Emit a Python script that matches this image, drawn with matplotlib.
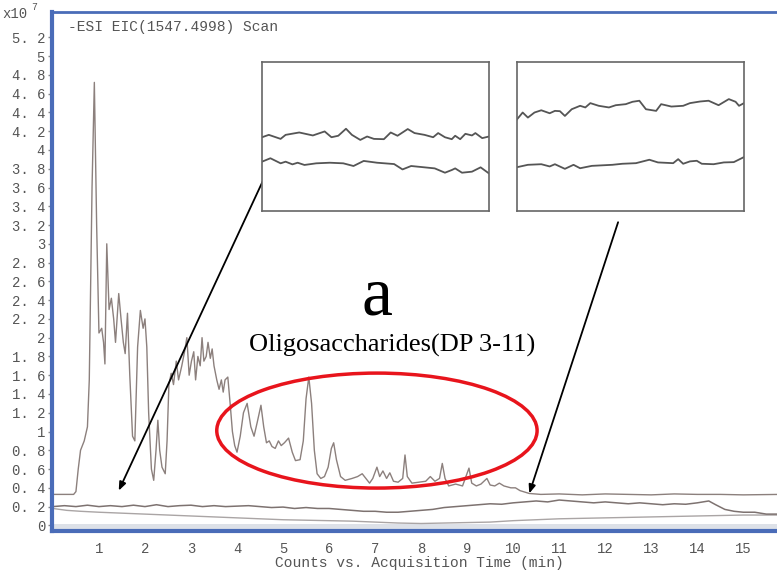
import matplotlib.pyplot as plt
from matplotlib.patches import Ellipse

# main EIC trace (x in min, y in 1e7 counts)
main_t = [0.0, 0.45, 0.5, 0.55, 0.6, 0.68, 0.75, 0.79, 0.85, 0.9, 0.95, 1.0, 1.06, 1.1, 1.13,
          1.17, 1.22, 1.27, 1.32, 1.36, 1.43, 1.48, 1.53, 1.57, 1.62, 1.67, 1.73, 1.78, 1.84,
          1.9, 1.96, 2.0, 2.04, 2.08, 2.14, 2.19, 2.24, 2.28, 2.32, 2.37, 2.44, 2.48, 2.52,
          2.57, 2.62, 2.68, 2.73, 2.8, 2.86, 2.91, 2.96, 3.01, 3.06, 3.1, 3.15, 3.2, 3.24,
          3.28, 3.33, 3.37, 3.42, 3.46, 3.5, 3.56, 3.61, 3.66, 3.7, 3.74, 3.8, 3.85, 3.9,
          3.95, 4.0, 4.07, 4.14, 4.22, 4.3, 4.37, 4.44, 4.52, 4.58, 4.64, 4.7, 4.76, 4.83,
          4.9, 4.96, 5.03, 5.12, 5.2, 5.27, 5.37, 5.44, 5.5, 5.56, 5.62, 5.68, 5.74, 5.82,
          5.9, 5.98, 6.05, 6.1, 6.16, 6.25, 6.35, 6.5, 6.62, 6.72, 6.8, 6.88, 6.95, 7.04,
          7.1, 7.17, 7.25, 7.32, 7.4, 7.5, 7.6, 7.65, 7.7, 7.8, 7.95, 8.1, 8.2, 8.3, 8.4,
          8.46, 8.52, 8.6, 8.75, 8.9, 9.04, 9.1, 9.2, 9.3, 9.43, 9.5, 9.6, 9.7, 9.8, 9.95,
          10.05, 10.15, 10.35, 10.6, 11.0, 11.5, 12.0, 12.5, 13.0, 13.5, 14.0, 14.5, 15.0, 15.8]
main_y = [0.33, 0.33, 0.36, 0.6, 0.8, 0.9, 1.05, 1.55, 3.6, 4.72, 3.2, 2.05, 2.1, 1.95, 1.72,
          3.0, 2.3, 2.42, 2.2, 1.95, 2.47, 2.2, 1.95, 1.83, 2.26, 1.6, 0.95, 0.9, 1.9,
          2.29, 2.1, 2.2, 1.9, 1.2, 0.6, 0.48, 0.8, 1.12, 0.8, 0.62, 0.55, 0.9, 1.5,
          1.62, 1.5, 1.75, 1.55, 1.7, 1.85, 2.0, 1.6, 1.75, 1.85, 1.55, 1.8, 1.7, 2.0,
          1.75, 1.8, 1.95, 1.78, 1.88, 1.7, 1.55, 1.45, 1.55, 1.42, 1.55, 1.58, 1.3, 1.0,
          0.85, 0.78, 0.95, 1.2, 1.3, 1.05, 0.95, 1.1, 1.28, 1.05, 0.88, 0.9, 0.84, 0.82,
          0.9, 0.85, 0.88, 0.93, 0.78, 0.69, 0.7, 0.9, 1.35, 1.58, 1.3, 0.8, 0.55, 0.5,
          0.52, 0.62, 0.82, 0.88, 0.7, 0.52, 0.48, 0.5, 0.52, 0.55, 0.5, 0.45, 0.5, 0.62,
          0.52, 0.58, 0.5, 0.56, 0.47, 0.46, 0.5, 0.75, 0.52, 0.45, 0.46, 0.47, 0.52, 0.47, 0.5,
          0.66, 0.5, 0.42, 0.44, 0.42, 0.61, 0.45, 0.42, 0.44, 0.5, 0.43, 0.42, 0.45, 0.42, 0.4,
          0.4, 0.37, 0.34, 0.33, 0.335, 0.325, 0.335, 0.33, 0.325, 0.335, 0.33, 0.33, 0.325, 0.33]

mid_t = [0, 0.25, 0.5, 0.75, 1, 1.25, 1.5, 1.75, 2, 2.25, 2.5, 2.75, 3, 3.25, 3.5, 3.75, 4,
         4.25, 4.5, 4.75, 5, 5.25, 5.5, 5.75, 6, 6.25, 6.5, 6.75, 7, 7.25, 7.5, 7.75, 8,
         8.25, 8.5, 8.75, 9, 9.25, 9.5, 9.75, 10, 10.25, 10.5, 10.75, 11, 11.25, 11.5, 11.75,
         12, 12.25, 12.5, 12.75, 13, 13.25, 13.5, 13.75, 14, 14.25, 14.4, 14.6, 14.8, 15,
         15.25, 15.5, 15.8]
mid_y = [0.2, 0.21, 0.2, 0.215, 0.2, 0.21, 0.2, 0.215, 0.2, 0.22, 0.2, 0.21, 0.215, 0.2,
         0.21, 0.2, 0.205, 0.21, 0.2, 0.19, 0.195, 0.18, 0.19, 0.18, 0.18, 0.17, 0.16, 0.15,
         0.15, 0.14, 0.14, 0.15, 0.16, 0.17, 0.19, 0.2, 0.21, 0.22, 0.23, 0.225, 0.24, 0.25,
         0.26, 0.25, 0.27, 0.26, 0.25, 0.24, 0.25, 0.24, 0.23, 0.24, 0.23, 0.22, 0.23, 0.225,
         0.24, 0.26, 0.22, 0.17, 0.15, 0.14, 0.14, 0.12, 0.12]

low_t = [0, 0.3, 0.6, 1, 1.5, 2, 2.5, 3, 3.5, 4, 4.5, 5, 5.5, 6, 6.5, 7, 7.5, 8, 8.5, 9,
         9.5, 10, 10.5, 11, 12, 13, 14, 15, 15.8]
low_y = [0.18, 0.16, 0.15, 0.14, 0.13, 0.12, 0.11, 0.1, 0.09, 0.08, 0.07, 0.06, 0.055, 0.05,
         0.045, 0.035, 0.025, 0.02, 0.025, 0.03, 0.035, 0.05, 0.06, 0.07, 0.08, 0.09, 0.1,
         0.11, 0.11]

# zoomed baseline insets (relative units)
in1_up_x = [0, 0.03, 0.082, 0.104, 0.164, 0.224, 0.276, 0.306, 0.336, 0.37, 0.396, 0.433,
            0.463, 0.493, 0.537, 0.567, 0.597, 0.642, 0.672, 0.716, 0.754, 0.776, 0.806,
            0.836, 0.851, 0.873, 0.896, 0.925, 0.94, 0.97, 1.0]
in1_up_y = [0.495, 0.511, 0.484, 0.511, 0.527, 0.507, 0.534, 0.495, 0.505, 0.552, 0.511,
            0.477, 0.5, 0.484, 0.482, 0.527, 0.505, 0.55, 0.523, 0.511, 0.495, 0.523, 0.495,
            0.482, 0.505, 0.482, 0.518, 0.507, 0.523, 0.489, 0.5]
in1_lo_x = [0, 0.037, 0.082, 0.104, 0.134, 0.157, 0.187, 0.239, 0.299, 0.358, 0.403, 0.448,
            0.507, 0.582, 0.619, 0.657, 0.716, 0.761, 0.806, 0.836, 0.851, 0.881, 0.925,
            0.963, 1.0]
in1_lo_y = [0.331, 0.354, 0.32, 0.331, 0.313, 0.324, 0.309, 0.32, 0.324, 0.32, 0.302, 0.336,
            0.324, 0.315, 0.279, 0.302, 0.293, 0.286, 0.257, 0.275, 0.286, 0.257, 0.264,
            0.293, 0.252]
in2_up_x = [0, 0.025, 0.048, 0.077, 0.107, 0.144, 0.167, 0.189, 0.211, 0.241, 0.278, 0.301,
            0.323, 0.36, 0.405, 0.435, 0.479, 0.509, 0.539, 0.568, 0.613, 0.635, 0.68,
            0.732, 0.762, 0.807, 0.844, 0.888, 0.933, 0.963, 0.978, 1.0]
in2_up_y = [0.615, 0.661, 0.627, 0.661, 0.676, 0.656, 0.672, 0.67, 0.638, 0.683, 0.706,
            0.695, 0.724, 0.706, 0.695, 0.71, 0.717, 0.733, 0.74, 0.683, 0.672, 0.717,
            0.701, 0.706, 0.724, 0.735, 0.74, 0.71, 0.751, 0.733, 0.706, 0.724]
in2_lo_x = [0, 0.048, 0.107, 0.144, 0.167, 0.211, 0.249, 0.278, 0.33, 0.42, 0.464, 0.524,
            0.583, 0.621, 0.688, 0.71, 0.732, 0.762, 0.792, 0.814, 0.866, 0.911, 0.955, 1.0]
in2_lo_y = [0.294, 0.31, 0.314, 0.299, 0.314, 0.283, 0.31, 0.287, 0.303, 0.31, 0.317, 0.321,
            0.344, 0.326, 0.321, 0.348, 0.317, 0.333, 0.337, 0.317, 0.314, 0.326, 0.328, 0.362]

yticks = [0, 0.2, 0.4, 0.6, 0.8, 1, 1.2, 1.4, 1.6, 1.8, 2, 2.2, 2.4, 2.6, 2.8, 3, 3.2, 3.4,
          3.6, 3.8, 4, 4.2, 4.4, 4.6, 4.8, 5, 5.2]
xticks = list(range(1, 16))

mono = 'Liberation Mono'
blue = '#4a6cb8'

fig = plt.figure(figsize=(7.77, 5.73), dpi=100)
ax = fig.add_axes([52 / 777, 42 / 573, 735 / 777, 519 / 573])

ax.axhspan(-0.045, 0.012, color='#dde1e8', lw=0, zorder=0)
ax.plot(low_t, low_y, color='#aaa5a5', lw=1.0)
ax.plot(mid_t, mid_y, color='#7d7270', lw=1.1)
ax.plot(main_t, main_y, color='#8c807d', lw=1.0, solid_joinstyle='round')

ax.set_xlim(-0.02, 15.95)
ax.set_ylim(-0.06, 5.47)
ax.set_yticks(yticks)
ax.set_yticklabels([('%g' % v).replace('.', '. ') for v in yticks], family=mono,
                   fontsize=10, color='#555555')
ax.set_xticks(xticks)
ax.set_xticklabels([str(v) for v in xticks], family=mono, fontsize=10, color='#555555')
ax.tick_params(axis='y', length=3, width=1, color='#888888', pad=2)
ax.tick_params(axis='x', length=0, pad=8)
ax.set_xlabel('Counts vs. Acquisition Time (min)', family=mono, fontsize=10.5,
              color='#555555', labelpad=0)

ax.spines['right'].set_visible(False)
ax.spines['left'].set_color(blue)
ax.spines['left'].set_linewidth(3)
ax.spines['bottom'].set_color(blue)
ax.spines['bottom'].set_linewidth(3)
ax.spines['top'].set_color(blue)
ax.spines['top'].set_linewidth(2)

ax.text(0.022, 0.985, '-ESI EIC(1547.4998) Scan', transform=ax.transAxes, family=mono,
        fontsize=10.5, color='#555555', va='top', ha='left')
fig.text(2 / 777, 1 - 18 / 573, 'x10', family=mono, fontsize=10, color='#555555')
fig.text(31 / 777, 1 - 10 / 573, '7', family=mono, fontsize=7, color='#555555')

ax.add_patch(Ellipse((7.04, 1.01), 6.96, 1.225, fill=False, ec='#e8141c', lw=2.5, zorder=5))
ax.text(7.04, 2.42, 'a', family='Liberation Serif', fontsize=50, ha='center', va='center')
ax.text(7.37, 1.92, 'Oligosaccharides(DP 3-11)', family='Liberation Serif', fontsize=19,
        ha='center', va='center')

arrow = dict(arrowstyle='-|>,head_length=0.5,head_width=0.2', color='black', lw=1.3,
             shrinkA=0, shrinkB=0)
ax.annotate('', xy=(1.43, 0.37), xytext=(4.59, 3.70), arrowprops=arrow)
ax.annotate('', xy=(10.35, 0.34), xytext=(12.28, 3.23), arrowprops=arrow)

# insets
for left, ux, uy, lx, ly in [(262, in1_up_x, in1_up_y, in1_lo_x, in1_lo_y),
                             (517, in2_up_x, in2_up_y, in2_lo_x, in2_lo_y)]:
    ia = fig.add_axes([left / 777, 1 - 211 / 573, 227 / 777, 149 / 573])
    ia.plot(ux, uy, color='#555555', lw=1.3)
    ia.plot(lx, ly, color='#555555', lw=1.3)
    ia.set_xlim(0, 1)
    ia.set_ylim(0, 1)
    ia.set_xticks([])
    ia.set_yticks([])
    for s in ia.spines.values():
        s.set_color('#666666')
        s.set_linewidth(1.2)

fig.savefig('out.png', dpi=100)
